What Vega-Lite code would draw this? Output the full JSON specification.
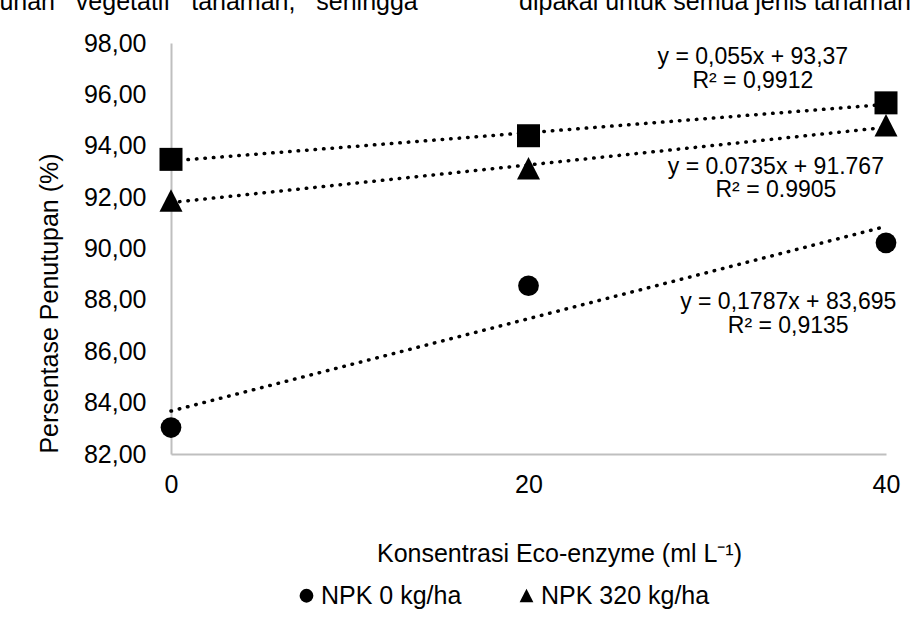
{
  "$schema": "https://vega.github.io/schema/vega-lite/v6.json",
  "width": 715,
  "height": 411,
  "autosize": {"type": "none"},
  "padding": {"left": 171, "top": 43, "right": 29, "bottom": 169},
  "background": "white",
  "config": {
    "font": "Liberation Sans",
    "view": {"stroke": null}
  },
  "datasets": {
    "points": [
      {"x": 0, "y": 83.03, "series": "NPK 0 kg/ha"},
      {"x": 20, "y": 88.55, "series": "NPK 0 kg/ha"},
      {"x": 40, "y": 90.22, "series": "NPK 0 kg/ha"},
      {"x": 0, "y": 93.47, "series": "NPK 160 kg/ha"},
      {"x": 20, "y": 94.39, "series": "NPK 160 kg/ha"},
      {"x": 40, "y": 95.67, "series": "NPK 160 kg/ha"},
      {"x": 0, "y": 91.86, "series": "NPK 320 kg/ha"},
      {"x": 20, "y": 93.11, "series": "NPK 320 kg/ha"},
      {"x": 40, "y": 94.79, "series": "NPK 320 kg/ha"}
    ],
    "labels": [
      {"x": 32.55, "y": 97.47, "label": "y = 0,055x + 93,37"},
      {"x": 32.55, "y": 96.54, "label": "R² = 0,9912"},
      {"x": 33.84, "y": 93.19, "label": "y = 0.0735x + 91.767"},
      {"x": 33.84, "y": 92.26, "label": "R² = 0.9905"},
      {"x": 34.53, "y": 87.93, "label": "y = 0,1787x + 83,695"},
      {"x": 34.53, "y": 86.97, "label": "R² = 0,9135"}
    ],
    "doc": [
      {"x": -9.6, "y": 99.3, "label": "uhan\u00a0\u00a0\u00a0vegetatif\u00a0\u00a0\u00a0tanaman,\u00a0\u00a0\u00a0sehingga"},
      {"x": 19.47, "y": 99.3, "label": "dipakai untuk semua jenis tanaman"}
    ]
  },
  "encoding": {
    "x": {"field": "x", "type": "quantitative", "scale": {"domain": [0, 40], "nice": false}},
    "y": {"field": "y", "type": "quantitative", "scale": {"domain": [82, 98], "nice": false, "zero": false}}
  },
  "layer": [
    {
      "data": {"name": "points"},
      "transform": [
        {"regression": "y", "on": "x", "groupby": ["series"], "extent": [0, 40]}
      ],
      "mark": {
        "type": "line",
        "color": "black",
        "strokeWidth": 3.5,
        "strokeDash": [0.5, 8],
        "strokeCap": "round"
      },
      "encoding": {
        "detail": {"field": "series"}
      }
    },
    {
      "data": {"name": "points"},
      "transform": [{"filter": "datum.series === 'NPK 0 kg/ha'"}],
      "mark": {"type": "point", "filled": true, "color": "black", "opacity": 1, "size": 430},
      "encoding": {
        "x": {
          "field": "x",
          "type": "quantitative",
          "axis": {
            "values": [0, 20, 40],
            "ticks": false,
            "grid": false,
            "domainColor": "#bfbfbf",
            "domainWidth": 2,
            "labelFontSize": 25,
            "labelColor": "black",
            "labelPadding": 18,
            "labelFlush": false,
            "title": "Konsentrasi Eco-enzyme (ml L⁻¹)",
            "titleFontSize": 25,
            "titleFontWeight": "normal",
            "titleColor": "black",
            "titleX": 388,
            "titleY": 99,
            "titleAlign": "center",
            "titleBaseline": "middle"
          }
        },
        "y": {
          "field": "y",
          "type": "quantitative",
          "axis": {
            "values": [82, 84, 86, 88, 90, 92, 94, 96, 98],
            "labelExpr": "replace(format(datum.value, '.2f'), '.', ',')",
            "ticks": false,
            "grid": false,
            "domainColor": "#bfbfbf",
            "domainWidth": 2,
            "labelFontSize": 25,
            "labelColor": "black",
            "labelPadding": 25,
            "labelFlush": false,
            "title": "Persentase Penutupan (%)",
            "titleFontSize": 25,
            "titleFontWeight": "normal",
            "titleColor": "black",
            "titleX": -122,
            "titleY": 260,
            "titleAlign": "center",
            "titleBaseline": "middle"
          }
        },
        "shape": {
          "field": "series",
          "type": "nominal",
          "scale": {
            "domain": ["NPK 0 kg/ha", "NPK 160 kg/ha", "NPK 320 kg/ha"],
            "range": ["circle", "square", "M0,-1L1,0.95L-1,0.95Z"]
          },
          "legend": {
            "values": ["NPK 0 kg/ha", "NPK 320 kg/ha"],
            "title": null,
            "orient": "none",
            "direction": "horizontal",
            "legendX": 123,
            "legendY": 540,
            "symbolSize": 190,
            "symbolFillColor": "black",
            "symbolStrokeColor": "black",
            "symbolStrokeWidth": 0,
            "labelFontSize": 25,
            "labelColor": "black",
            "labelOffset": 2,
            "labelLimit": 400,
            "columnPadding": 52
          }
        }
      }
    },
    {
      "data": {"name": "points"},
      "transform": [{"filter": "datum.series === 'NPK 160 kg/ha'"}],
      "mark": {"type": "point", "filled": true, "color": "black", "opacity": 1, "size": 529},
      "encoding": {
        "shape": {"field": "series", "type": "nominal"}
      }
    },
    {
      "data": {"name": "points"},
      "transform": [{"filter": "datum.series === 'NPK 320 kg/ha'"}],
      "mark": {"type": "point", "filled": true, "color": "black", "opacity": 1, "size": 529},
      "encoding": {
        "shape": {"field": "series", "type": "nominal"}
      }
    },
    {
      "data": {"name": "labels"},
      "mark": {"type": "text", "fontSize": 23, "color": "black", "align": "center", "baseline": "middle"},
      "encoding": {
        "text": {"field": "label"}
      }
    },
    {
      "data": {"name": "doc"},
      "mark": {"type": "text", "fontSize": 25, "color": "black", "align": "left", "baseline": "alphabetic"},
      "encoding": {
        "text": {"field": "label"}
      }
    }
  ]
}
